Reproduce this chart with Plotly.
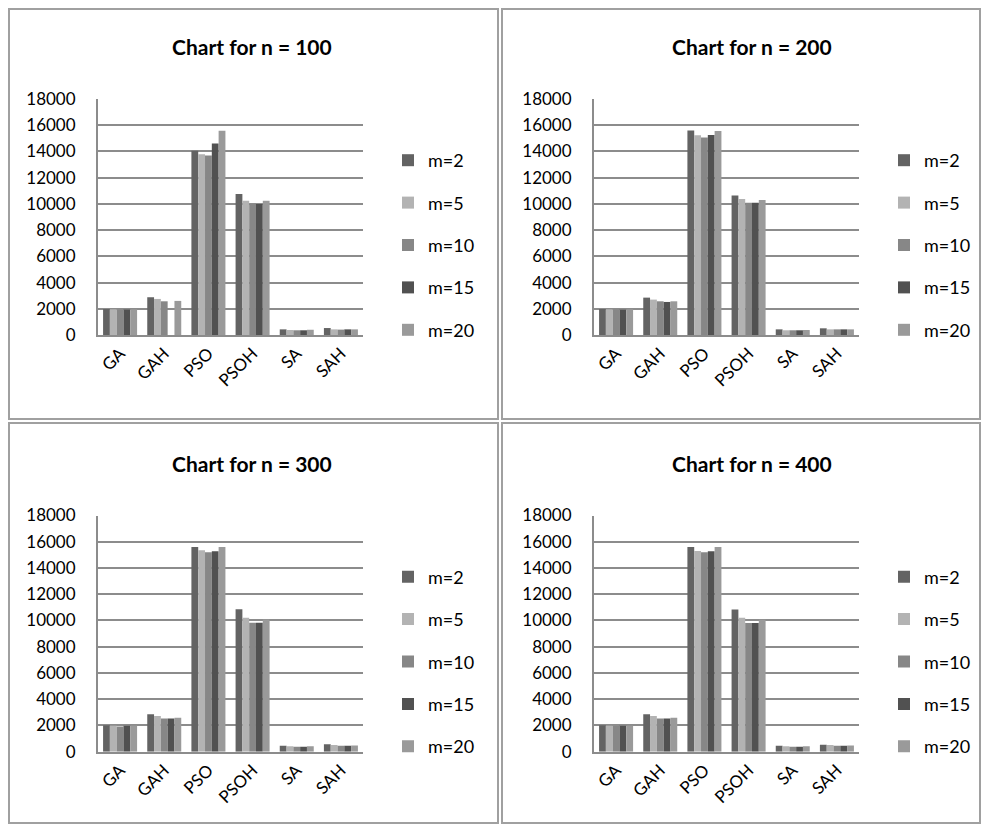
import plotly.graph_objects as go

categories = ["GA", "GAH", "PSO", "PSOH", "SA", "SAH"]
series_names = ["m=2", "m=5", "m=10", "m=15", "m=20"]
series_colors = ["#636363", "#b3b3b3", "#878787", "#515151", "#9a9a9a"]
y_ticks = [0, 2000, 4000, 6000, 8000, 10000, 12000, 14000, 16000, 18000]
y_tick_labels = [str(v) for v in y_ticks]
chart_titles = ["Chart for n = 100", "Chart for n = 200", "Chart for n = 300", "Chart for n = 400"]

n100_m2 = [1980, 2880, 14050, 10760, 430, 530]
n100_m5 = [1960, 2750, 13790, 10230, 380, 430]
n100_m10 = [1920, 2570, 13690, 10000, 360, 410]
n100_m15 = [1940, 0, 14610, 10000, 360, 430]
n100_m20 = [1960, 2600, 15570, 10230, 400, 430]

n200_m2 = [1980, 2850, 15600, 10640, 430, 510]
n200_m5 = [1960, 2700, 15240, 10380, 360, 430]
n200_m10 = [1930, 2570, 15060, 10080, 360, 430]
n200_m15 = [1930, 2520, 15260, 10080, 360, 430]
n200_m20 = [1960, 2570, 15550, 10300, 380, 430]

n300_m2 = [2020, 2860, 15600, 10860, 460, 560]
n300_m5 = [1980, 2730, 15350, 10200, 410, 510]
n300_m10 = [1920, 2530, 15200, 9820, 380, 460]
n300_m15 = [1980, 2530, 15270, 9820, 380, 460]
n300_m20 = [1980, 2580, 15600, 10080, 410, 480]

n400_m2 = [2020, 2860, 15600, 10840, 460, 530]
n400_m5 = [1980, 2730, 15300, 10200, 410, 510]
n400_m10 = [1950, 2530, 15200, 9800, 380, 460]
n400_m15 = [1980, 2530, 15270, 9800, 380, 460]
n400_m20 = [1980, 2580, 15600, 10050, 410, 480]

charts = [
    [n100_m2, n100_m5, n100_m10, n100_m15, n100_m20],
    [n200_m2, n200_m5, n200_m10, n200_m15, n200_m20],
    [n300_m2, n300_m5, n300_m10, n300_m15, n300_m20],
    [n400_m2, n400_m5, n400_m10, n400_m15, n400_m20],
]

OFF = 8  # page body margin
W, H = 989 - 2 * OFF, 832 - 2 * OFF
FONT = "Lato"
GRID = "#8c8c8c"


def px(x):
    return (x - OFF) / W


def py(y):
    return 1 - (y - OFF) / H


# pixel geometry (window coords)
plot_x = [(98, 363), (594, 859), (98, 363), (594, 859)]
plot_y = [(99, 335), (99, 335), (515.5, 751.7), (515.5, 751.7)]
borders = [(9, 9, 498, 419), (502, 9, 980, 419), (9, 423, 498, 823), (502, 423, 980, 823)]
title_pos = [(252, 46), (752, 46), (252, 463), (752, 463)]

fig = go.Figure()
layout_updates = {}
annotations = []
shapes = []

for i, data in enumerate(charts):
    sfx = "" if i == 0 else str(i + 1)
    leg = "legend" if i == 0 else f"legend{i + 1}"
    for j, vals in enumerate(data):
        fig.add_trace(go.Bar(
            x=categories, y=vals, name=series_names[j],
            marker=dict(color=series_colors[j], line=dict(width=0)),
            xaxis="x" + sfx, yaxis="y" + sfx, legend=leg,
            legendgroup=f"g{i}_{j}",
        ))
    x0, x1 = plot_x[i]
    yt, yb = plot_y[i]
    layout_updates["xaxis" + sfx] = dict(
        domain=[px(x0), px(x1)], anchor="y" + sfx, automargin=False,
        showline=True, linecolor=GRID, linewidth=2,
        tickangle=-45, tickfont=dict(family=FONT, size=17, color="#000000"),
        showgrid=False, ticks="",
    )
    layout_updates["yaxis" + sfx] = dict(
        domain=[py(yb), py(yt)], anchor="x" + sfx, automargin=False,
        range=[0, 18000], tickvals=y_ticks, ticktext=y_tick_labels,
        showline=True, linecolor=GRID, linewidth=2,
        showgrid=True, gridcolor=GRID, gridwidth=2,
        zeroline=False, ticks="",
        ticklabelstandoff=17,
        tickfont=dict(family=FONT, size=17, color="#000000"),
    )
    layout_updates[leg] = dict(
        x=px(x1 + 25), y=py(yt + 43), xanchor="left", yanchor="top",
        font=dict(family=FONT, size=18, color="#000000"),
        bgcolor="rgba(0,0,0,0)", traceorder="grouped", tracegroupgap=16,
        itemclick=False,
    )
    bx0, by0, bx1, by1 = borders[i]
    shapes.append(dict(type="rect", xref="paper", yref="paper",
                       x0=px(bx0), x1=px(bx1), y0=py(by1), y1=py(by0),
                       line=dict(color="#a0a0a0", width=2)))
    tx, ty = title_pos[i]
    annotations.append(dict(text="<b>" + chart_titles[i] + "</b>", xref="paper", yref="paper",
                            x=px(tx), y=py(ty), xanchor="center", yanchor="middle",
                            showarrow=False,
                            font=dict(family=FONT, size=21, color="#000000")))

fig.update_layout(
    width=W, height=H,
    margin=dict(l=0, r=0, t=0, b=0, autoexpand=False),
    paper_bgcolor="white", plot_bgcolor="white",
    barmode="group", bargap=0.23, bargroupgap=0,
    showlegend=True,
    shapes=shapes, annotations=annotations,
    **layout_updates,
)

fig.write_html("out.html")
